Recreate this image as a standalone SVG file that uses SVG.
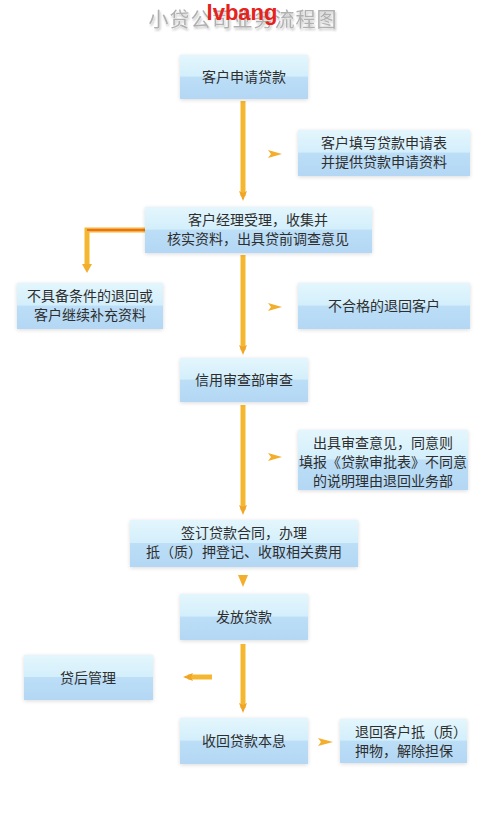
<svg xmlns="http://www.w3.org/2000/svg" width="483" height="816" viewBox="0 0 483 816">
<defs>
<linearGradient id="bg" x1="0" y1="0" x2="0" y2="1">
<stop offset="0" stop-color="#e4f6fd"/>
<stop offset="0.48" stop-color="#d3effb"/>
<stop offset="0.5" stop-color="#bcdef7"/>
<stop offset="1" stop-color="#b3d7f4"/>
</linearGradient>
<filter id="sh" x="-10%" y="-20%" width="120%" height="140%">
<feGaussianBlur in="SourceAlpha" stdDeviation="2"/>
<feOffset dx="0" dy="1"/>
<feComponentTransfer><feFuncA type="linear" slope="0.15"/></feComponentTransfer>
<feMerge><feMergeNode/><feMergeNode in="SourceGraphic"/></feMerge>
</filter>
<filter id="tsh" x="-5%" y="-20%" width="110%" height="150%">
<feGaussianBlur in="SourceAlpha" stdDeviation="1"/>
<feOffset dx="1" dy="2"/>
<feComponentTransfer><feFuncA type="linear" slope="0.25"/></feComponentTransfer>
<feMerge><feMergeNode/><feMergeNode in="SourceGraphic"/></feMerge>
</filter>
<marker id="ah" markerWidth="10" markerHeight="10" refX="5" refY="5" orient="auto" markerUnits="userSpaceOnUse">
<path d="M0,1 L10,5 L0,9 L2,5 Z" fill="#f0a526"/>
</marker>
</defs>
<style>
.box{fill:url(#bg);filter:url(#sh)}
.t{font-family:"Noto Sans CJK SC","Noto Sans",sans-serif;font-size:14px;fill:#2e2e2e;text-anchor:middle}
.tl{font-family:"Noto Sans CJK SC","Noto Sans",sans-serif;font-size:14px;fill:#2e2e2e}
.ln{stroke:#f5b630;stroke-width:5;fill:none}
.sa{fill:#f3ae2c}
</style>
<rect width="483" height="816" fill="#ffffff"/>
<g id="title">
<text x="243" y="27" font-family="'Noto Sans CJK SC',sans-serif" font-size="20" fill="#b0b0b0" text-anchor="middle" letter-spacing="1" filter="url(#tsh)">小贷公司业务流程图</text>
<text x="242" y="20" font-family="'Liberation Sans',sans-serif" font-weight="bold" font-size="22" fill="#e5221b" text-anchor="middle">lvbang</text>
</g>
<g id="connectors">
<line class="ln" x1="243" y1="101" x2="243" y2="196" marker-end="url(#ah)"/>
<line class="ln" x1="243" y1="255" x2="243" y2="350" marker-end="url(#ah)"/>
<line class="ln" x1="243" y1="405" x2="243" y2="510" marker-end="url(#ah)"/>
<line class="ln" x1="243" y1="644" x2="243" y2="708" marker-end="url(#ah)"/>
<polyline class="ln" points="145,230 87,230 87,266" stroke="#f2a32a"/>
<path d="M82,264 L92,264 L87,273 Z" class="sa"/>
<line x1="87" y1="230" x2="145" y2="230" stroke="#e8702a" stroke-width="2"/>
<path d="M268,150 L282,154 L268,158 L271,154 Z" class="sa"/>
<path d="M268,303 L282,307 L268,311 L271,307 Z" class="sa"/>
<path d="M268,453 L282,457 L268,461 L271,457 Z" class="sa"/>
<path d="M238,575 L248,575 L243,587 Z" class="sa"/>
<line class="ln" x1="212" y1="677" x2="188" y2="677" marker-end="url(#ah)"/>
<path d="M318,738 L333,742 L318,746 L321,742 Z" class="sa"/>
</g>
<g id="n1"><rect class="box" x="180" y="55" width="128" height="44"/><text class="t" x="244" y="82">客户申请贷款</text></g>
<g id="n2"><rect class="box" x="298" y="130" width="172" height="46"/><text class="t" x="384" y="148">客户填写贷款申请表</text><text class="t" x="384" y="167">并提供贷款申请资料</text></g>
<g id="n3"><rect class="box" x="145" y="207" width="227" height="46"/><text class="t" x="258" y="225">客户经理受理，收集并</text><text class="t" x="258" y="244">核实资料，出具贷前调查意见</text></g>
<g id="n4"><rect class="box" x="17" y="283" width="146" height="46"/><text class="t" x="90" y="301">不具备条件的退回或</text><text class="t" x="90" y="320">客户继续补充资料</text></g>
<g id="n5"><rect class="box" x="298" y="283" width="172" height="46"/><text class="t" x="384" y="311">不合格的退回客户</text></g>
<g id="n6"><rect class="box" x="180" y="358" width="128" height="44"/><text class="t" x="244" y="385">信用审查部审查</text></g>
<g id="n7"><rect class="box" x="298" y="430" width="170" height="60"/><text class="t" x="383" y="448">出具审查意见，同意则</text><text class="t" x="383" y="467">填报《贷款审批表》不同意</text><text class="t" x="383" y="486">的说明理由退回业务部</text></g>
<g id="n8"><rect class="box" x="130" y="520" width="228" height="47"/><text class="t" x="244" y="538">签订贷款合同，办理</text><text class="t" x="244" y="557">抵（质）押登记、收取相关费用</text></g>
<g id="n9"><rect class="box" x="180" y="594" width="128" height="46"/><text class="t" x="244" y="622">发放贷款</text></g>
<g id="n10"><rect class="box" x="24" y="655" width="129" height="45"/><text class="t" x="88" y="683">贷后管理</text></g>
<g id="n11"><rect class="box" x="180" y="718" width="128" height="46"/><text class="t" x="244" y="746">收回贷款本息</text></g>
<g id="n12"><rect class="box" x="340" y="719" width="127" height="44"/><text class="tl" x="355" y="737">退回客户抵（质）</text><text class="tl" x="355" y="756">押物，解除担保</text></g>
</svg>
